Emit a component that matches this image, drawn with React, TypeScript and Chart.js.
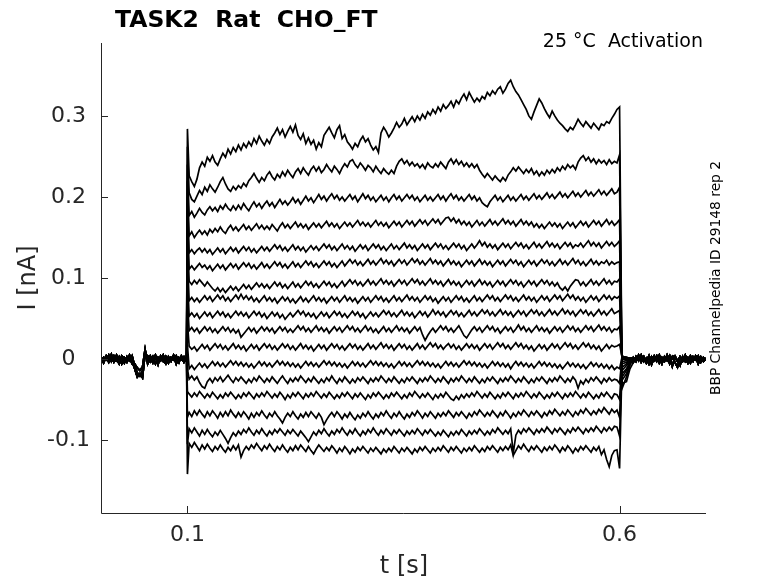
import { useEffect, useRef } from 'react';
import { Chart, registerables } from 'chart.js';
import type { ChartConfiguration, Plugin } from 'chart.js';

Chart.register(...registerables);

const FONT = "'DejaVu Sans', 'Liberation Sans', sans-serif";
const INK = '#262626';

const TITLE = 'TASK2  Rat  CHO_FT';
const CONDITION = '25 °C  Activation';
const SOURCE = 'BBP Channelpedia ID 29148 rep 2';
const X_LABEL = 't [s]';
const Y_LABEL = 'I [nA]';
const X_TICKS = [0.1, 0.6];
const Y_TICKS = [-0.1, 0, 0.1, 0.2, 0.3];

// sample times (ms)
const PRE_MS = [0, 3, 6, 9, 12, 15, 18, 21, 24, 27, 30, 33, 36, 39, 42, 45, 48, 51, 54, 57, 60, 63, 66, 69, 72, 75, 78, 81, 84, 87, 90, 93, 96, 99];
const ON_MS = 100;
const PULSE_MS = [
  102, 105, 108, 111, 114, 117, 120, 123, 126, 129,
  132, 135, 138, 141, 144, 147, 150, 153, 156, 159,
  162, 165, 168, 171, 174, 177, 180, 183, 186, 189,
  192, 195, 198, 201, 204, 207, 210, 213, 216, 219,
  222, 225, 228, 231, 234, 237, 240, 243, 246, 249,
  252, 255, 258, 261, 264, 267, 270, 273, 276, 279,
  282, 285, 288, 291, 294, 297, 300, 303, 306, 309,
  312, 315, 318, 321, 324, 327, 330, 333, 336, 339,
  342, 345, 348, 351, 354, 357, 360, 363, 366, 369,
  372, 375, 378, 381, 384, 387, 390, 393, 396, 399,
  402, 405, 408, 411, 414, 417, 420, 423, 426, 429,
  432, 435, 438, 441, 444, 447, 450, 453, 456, 459,
  462, 465, 468, 471, 474, 477, 480, 483, 486, 489,
  492, 495, 498, 501, 504, 507, 510, 513, 516, 519,
  522, 525, 528, 531, 534, 537, 540, 543, 546, 549,
  552, 555, 558, 561, 564, 567, 570, 573, 576, 579,
  582, 585, 588, 591, 594, 597,
];
const OFF_MS = [600, 603, 608, 612];
const POST_MS = [616, 619, 622, 625, 628, 631, 634, 637, 640, 643, 646, 649, 652, 655, 658, 661, 664, 667, 670, 673, 676, 679, 682, 685, 688, 691, 694, 697, 700];

// holding current before / after the step (pA)
const BASE_PRE_A = [3, -2, 4, -4, 1, -3, 5, -1, 2, -5, 3, -2, 4, -9, -17, -21, -15, 10, -3, 4, -2, 5, -4, 1, -3, 3, -5, 2, -1, 4, -3, 2, -4, 1];
const BASE_PRE_B = [-4, 2, -1, 5, -3, 4, -2, 3, -6, 2, -1, 5, -3, -12, -22, -18, -23, 6, 4, -3, 3, -6, 2, -2, 5, -4, 1, -3, 4, -6, 2, -1, 3, -2];
const BASE_PRE_C = [1, -5, 3, -2, 6, -4, 0, -6, 4, 1, -4, 2, -6, -6, -11, -14, -10, 12, -6, 1, -5, 3, -7, 4, -1, -6, 3, -2, 5, -2, -5, 4, -2, 0];
const BASE_POST_A = [2, -3, 4, -2, 3, -5, 2, -1, 4, -3, 2, -6, 3, -2, 4, -9, 2, -3, 3, -2, 5, -4, 1, -3, 4, -2, 3, -1, 1];
const BASE_POST_B = [-4, 3, -2, 5, -3, 1, -6, 3, -2, 4, -5, 2, -3, 5, -2, 3, -4, -10, 2, -3, 1, -5, 4, -2, 3, -6, 2, -3, 0];
const BASE_POST_C = [1, -2, 5, -4, 2, -3, 4, -7, 1, -2, 5, -3, -1, 3, -6, 2, 4, -2, -8, 3, -3, 2, -5, 3, -1, 4, -4, 2, -1];

// capacitive spikes and tail at step on/off (pA), top sweep first
const ON_SPIKE = [284, 262, 240, 220, 200, 178, 150, 125, 100, 72, 45, 18, -12, -40, -72, -105, -142];
const OFF_SPIKE = [311, 252, 212, 172, 146, 120, 99, 78, 60, 40, 18, -12, -30, -50, -72, -95, -135];
const OFF_TAIL_1 = [-36, -30, -26, -22, -18, -14, -10, -6, -3, 0, 2, 3, 4, 3, 2, 3, 2];
const OFF_TAIL_2 = [-22, -28, -18, -14, -12, -8, -6, -4, -2, 0, 1, 2, 1, 2, 0, 1, 2];
const OFF_TAIL_3 = [-8, -12, -6, -5, -4, -3, -2, -1, 0, 1, 0, 1, 0, -1, 1, 0, 1];

// current during the step (pA), one array per sweep, top sweep first
const TRACE_1 = [
  226, 219, 213, 222, 236, 243, 238, 249, 244, 251,
  243, 239, 247, 254, 249, 259, 253, 261, 256, 264,
  258, 266, 261, 268, 263, 272, 266, 275, 269, 264,
  271, 266, 274, 279, 285, 277, 283, 274, 281, 287,
  280, 289, 276, 271, 278, 266, 273, 265, 270, 259,
  267, 262, 276, 281, 286, 279, 273, 283, 288, 272,
  277, 268, 264, 259, 266, 262, 270, 275, 268, 272,
  264, 258, 262, 255, 279, 286, 281, 274, 279, 285,
  292, 286, 290, 297, 289, 294, 299, 293, 300, 295,
  302, 297, 305, 301, 308, 303, 311, 306, 314, 309,
  313, 318, 311, 319, 315, 322, 327, 320, 329, 323,
  317, 322, 318, 324, 321, 329, 325, 331, 327, 333,
  336, 328, 333, 340, 344, 336, 330, 326, 320, 314,
  308, 300, 296, 305, 313, 321, 316, 309, 303, 298,
  306, 300, 295, 291, 288, 284, 281, 286, 283, 289,
  296, 291, 287, 293, 289, 285, 291, 287, 283, 290,
  288, 293, 291, 297, 302, 308,
];
const TRACE_2 = [
  205, 197, 194, 201, 208, 203, 212, 207, 215, 210,
  206, 212, 219, 224, 216, 210, 207, 213, 209, 214,
  211, 217, 213, 220, 224, 229, 223, 218, 224, 220,
  227, 231, 225, 221, 228, 224, 231, 226, 233, 228,
  224, 231, 235, 229, 236, 231, 227, 234, 238, 232,
  237, 230, 234, 240, 235, 231, 238, 234, 229, 236,
  241, 237, 244, 246, 240, 236, 242, 238, 233, 239,
  236, 231, 238, 233, 229, 235, 231, 228, 233, 229,
  238, 244, 247, 241, 245, 239, 243, 238, 241, 236,
  240, 235, 242, 238, 236, 241, 237, 243, 239, 235,
  243, 247, 241, 246, 240, 244, 238, 242, 237, 241,
  236, 240, 233, 228, 224, 229, 225, 221, 226, 222,
  219, 224, 220, 227, 231, 236, 232, 237, 233, 229,
  234, 230, 235, 228, 232, 226, 231, 227, 233, 229,
  234, 230, 236, 232, 238, 234, 240, 236, 239, 234,
  243, 248, 251, 245, 249, 243, 247, 241, 246, 242,
  245, 240, 246, 241, 244, 242,
];
const TRACE_3 = [
  177, 182, 175, 180, 186, 181, 178, 184, 188, 183,
  187, 182, 189, 185, 191, 186, 183, 189, 184, 190,
  185, 192, 187, 183, 189, 194, 188, 192, 186, 191,
  195, 189, 193, 187, 192, 197, 191, 195, 190, 194,
  199, 193, 197, 191, 196, 201, 195, 199, 193, 198,
  203, 197, 201, 195, 200, 204, 198, 202, 196, 200,
  195, 199, 203, 197, 201, 194, 199, 204, 198, 202,
  196, 200, 194, 198, 202, 196, 200, 194, 199, 203,
  197, 201, 195, 199, 203, 198, 202, 196, 200, 194,
  198, 202, 196, 200, 195, 199, 203, 197, 201, 195,
  200, 204, 198, 202, 196, 200, 195, 199, 203, 197,
  201, 195, 199, 193, 190, 188, 194, 198, 202, 196,
  200, 194, 198, 202, 196, 200, 195, 199, 203, 197,
  201, 196, 200, 204, 198, 202, 197, 201, 205, 199,
  203, 198, 202, 206, 200, 204, 199, 203, 207, 201,
  205, 200, 204, 208, 202, 206, 201, 205, 209, 203,
  207, 202, 206, 210, 204, 206,
];
const TRACE_4 = [
  152, 157, 150, 155, 159, 154, 158, 153, 160, 156,
  161, 157, 163, 158, 155, 161, 165, 159, 163, 158,
  162, 166, 160, 164, 159, 163, 167, 161, 165, 160,
  164, 160, 166, 162, 158, 164, 168, 162, 166, 161,
  165, 169, 163, 167, 162, 166, 160, 164, 168, 163,
  167, 162, 166, 170, 164, 168, 163, 167, 161, 165,
  169, 164, 168, 163, 167, 171, 165, 169, 164, 168,
  163, 167, 171, 165, 169, 164, 168, 162, 166, 170,
  165, 169, 163, 167, 171, 166, 170, 164, 168, 172,
  167, 171, 165, 169, 173, 168, 172, 166, 170, 174,
  175, 170, 174, 168, 172, 166, 170, 165, 169, 163,
  167, 171, 165, 169, 164, 168, 172, 166, 170, 165,
  169, 173, 167, 171, 166, 170, 164, 168, 172, 166,
  170, 165, 169, 163, 167, 162, 166, 161, 165, 169,
  164, 168, 163, 167, 161, 165, 169, 164, 168, 162,
  166, 170, 165, 169, 163, 167, 171, 166, 170, 164,
  168, 172, 166, 170, 165, 168,
];
const TRACE_5 = [
  131, 135, 130, 134, 137, 132, 136, 131, 135, 129,
  133, 137, 132, 136, 130, 134, 138, 133, 137, 131,
  135, 139, 134, 138, 132, 136, 131, 135, 139, 134,
  138, 133, 137, 141, 136, 140, 134, 138, 133, 137,
  141, 135, 139, 134, 138, 132, 136, 140, 135, 139,
  134, 138, 142, 137, 141, 135, 139, 134, 138, 142,
  136, 140, 135, 139, 133, 137, 141, 136, 140, 134,
  138, 142, 137, 141, 135, 139, 134, 138, 142, 136,
  140, 135, 139, 143, 137, 141, 136, 140, 134, 138,
  142, 137, 141, 135, 139, 143, 138, 142, 136, 140,
  135, 139, 143, 138, 142, 136, 140, 134, 138, 142,
  137, 141, 146, 140, 144, 138, 142, 137, 141, 135,
  139, 143, 138, 142, 136, 140, 144, 139, 143, 137,
  141, 136, 140, 144, 138, 142, 137, 141, 145, 139,
  143, 138, 142, 136, 140, 144, 139, 143, 137, 141,
  139, 143, 138, 142, 146, 140, 144, 139, 143, 137,
  141, 145, 140, 144, 139, 142,
];
const TRACE_6 = [
  111, 115, 110, 114, 118, 113, 116, 111, 115, 109,
  113, 117, 112, 116, 110, 114, 118, 113, 117, 111,
  115, 119, 114, 118, 112, 116, 111, 115, 119, 113,
  117, 112, 116, 120, 115, 119, 113, 117, 112, 116,
  120, 114, 118, 113, 117, 121, 116, 120, 114, 118,
  113, 117, 121, 116, 120, 114, 118, 113, 117, 121,
  115, 119, 123, 118, 122, 116, 120, 115, 119, 123,
  117, 121, 116, 120, 124, 118, 122, 117, 121, 115,
  119, 123, 118, 122, 116, 120, 124, 119, 123, 117,
  121, 116, 120, 124, 118, 122, 117, 121, 115, 119,
  123, 117, 121, 116, 120, 114, 118, 122, 117, 121,
  115, 119, 123, 117, 121, 116, 120, 114, 118, 122,
  117, 121, 115, 119, 123, 118, 122, 116, 120, 114,
  118, 122, 117, 121, 115, 119, 123, 118, 122, 116,
  120, 115, 119, 123, 117, 121, 116, 120, 124, 118,
  122, 116, 120, 115, 119, 123, 117, 121, 116, 120,
  118, 122, 116, 120, 117, 119,
];
const TRACE_7 = [
  96, 92, 97, 93, 98, 94, 90, 95, 91, 87,
  84, 88, 83, 87, 82, 86, 90, 85, 89, 84,
  88, 92, 87, 91, 86, 90, 94, 89, 93, 88,
  92, 87, 91, 95, 90, 94, 88, 92, 87, 91,
  95, 89, 93, 88, 92, 96, 91, 95, 89, 93,
  88, 92, 96, 91, 95, 89, 93, 88, 92, 96,
  90, 94, 98, 93, 97, 91, 95, 90, 94, 98,
  92, 96, 91, 95, 99, 93, 97, 92, 96, 90,
  94, 98, 93, 97, 91, 95, 99, 94, 98, 92,
  96, 91, 95, 99, 93, 97, 92, 96, 90, 94,
  98, 92, 96, 91, 95, 89, 93, 97, 92, 96,
  90, 94, 98, 92, 96, 91, 95, 89, 93, 97,
  92, 96, 90, 94, 98, 93, 97, 91, 95, 89,
  93, 97, 92, 96, 90, 94, 98, 93, 97, 91,
  95, 90, 94, 88, 85, 89, 84, 90, 94, 98,
  97, 91, 95, 90, 94, 98, 92, 96, 91, 95,
  99, 93, 97, 92, 96, 95,
];
const TRACE_8 = [
  72, 76, 71, 75, 70, 74, 78, 73, 77, 71,
  75, 79, 74, 78, 72, 76, 71, 75, 79, 74,
  80, 74, 78, 73, 77, 71, 75, 70, 74, 78,
  72, 76, 71, 75, 69, 73, 77, 72, 76, 70,
  74, 69, 73, 77, 71, 75, 70, 74, 78, 72,
  76, 71, 75, 69, 73, 77, 72, 76, 70, 74,
  78, 72, 76, 71, 75, 69, 73, 77, 72, 76,
  70, 74, 78, 73, 77, 71, 75, 70, 74, 78,
  72, 76, 71, 75, 79, 73, 77, 72, 76, 70,
  74, 78, 73, 77, 71, 75, 69, 73, 77, 72,
  76, 70, 74, 78, 73, 77, 71, 75, 70, 74,
  78, 72, 76, 71, 75, 79, 74, 78, 72, 76,
  71, 75, 79, 74, 78, 72, 76, 71, 75, 79,
  73, 77, 72, 76, 70, 74, 78, 73, 77, 71,
  75, 79, 74, 78, 72, 76, 80, 75, 79, 73,
  77, 72, 76, 70, 74, 78, 73, 77, 71, 75,
  79, 74, 78, 73, 77, 75,
];
const TRACE_9 = [
  53, 57, 52, 56, 50, 54, 58, 53, 57, 51,
  55, 59, 54, 58, 52, 56, 51, 55, 59, 54,
  58, 53, 57, 51, 55, 59, 54, 58, 52, 56,
  50, 54, 58, 53, 57, 51, 55, 49, 53, 57,
  52, 56, 60, 55, 59, 53, 57, 52, 56, 50,
  54, 58, 53, 57, 51, 55, 59, 54, 58, 52,
  56, 51, 55, 59, 54, 58, 52, 56, 50, 54,
  58, 53, 57, 52, 56, 60, 55, 59, 53, 57,
  52, 56, 60, 54, 58, 53, 57, 51, 55, 59,
  54, 58, 52, 56, 61, 55, 59, 54, 58, 52,
  56, 60, 55, 59, 53, 57, 52, 56, 60, 54,
  58, 53, 57, 61, 56, 60, 54, 58, 53, 57,
  61, 55, 59, 54, 58, 52, 56, 60, 55, 59,
  53, 57, 61, 56, 60, 54, 58, 53, 57, 61,
  55, 59, 54, 58, 62, 56, 60, 55, 59, 53,
  57, 61, 56, 60, 54, 58, 53, 57, 61, 55,
  59, 54, 58, 62, 56, 58,
];
const TRACE_10 = [
  35, 39, 34, 38, 32, 36, 40, 35, 39, 33,
  37, 32, 36, 40, 35, 39, 33, 37, 32, 36,
  27, 31, 35, 39, 34, 38, 32, 36, 40, 35,
  39, 34, 38, 32, 36, 40, 35, 39, 33, 37,
  33, 37, 41, 36, 40, 34, 38, 33, 37, 41,
  35, 39, 34, 38, 32, 36, 40, 35, 39, 33,
  37, 41, 36, 40, 34, 38, 33, 37, 41, 35,
  39, 33, 37, 32, 36, 40, 34, 38, 33, 37,
  41, 35, 39, 34, 38, 32, 36, 40, 35, 39,
  30, 23, 29, 34, 38, 33, 37, 41, 36, 40,
  34, 38, 33, 37, 41, 35, 29, 26, 31, 36,
  40, 35, 39, 33, 37, 41, 36, 40, 34, 38,
  32, 36, 40, 35, 39, 33, 37, 42, 36, 40,
  34, 38, 33, 37, 41, 35, 39, 34, 38, 32,
  36, 40, 35, 39, 33, 37, 41, 36, 40, 34,
  38, 33, 37, 41, 36, 40, 34, 38, 42, 36,
  40, 35, 39, 33, 37, 36,
];
const TRACE_11 = [
  16, 12, 15, 10, 14, 18, 13, 17, 11, 15,
  19, 14, 18, 12, 16, 11, 15, 19, 13, 17,
  12, 16, 10, 14, 18, 13, 17, 11, 15, 19,
  14, 18, 12, 16, 11, 15, 19, 14, 18, 12,
  16, 11, 15, 19, 13, 17, 12, 16, 10, 14,
  18, 13, 17, 11, 15, 19, 14, 18, 12, 16,
  11, 15, 19, 14, 18, 12, 16, 11, 15, 19,
  13, 17, 12, 16, 20, 14, 18, 13, 17, 11,
  15, 19, 14, 18, 12, 16, 11, 15, 19, 13,
  17, 12, 16, 20, 15, 19, 13, 17, 12, 16,
  19, 14, 18, 12, 16, 11, 15, 19, 14, 18,
  13, 17, 11, 15, 19, 14, 18, 12, 16, 20,
  15, 19, 13, 17, 12, 16, 20, 15, 19, 13,
  17, 12, 16, 10, 14, 18, 13, 17, 11, 15,
  19, 14, 18, 12, 16, 20, 15, 19, 13, 17,
  12, 16, 20, 15, 19, 13, 17, 12, 16, 10,
  14, 18, 13, 17, 15, 16,
];
const TRACE_12 = [
  -12, -8, -13, -9, -5, -10, -6, -11, -7, -3,
  -8, -4, -9, -5, -10, -6, -2, -7, -3, -8,
  -4, -9, -5, -10, -6, -11, -7, -3, -8, -4,
  -9, -5, -10, -6, -2, -7, -3, -8, -4, -9,
  -5, -10, -6, -11, -7, -3, -8, -4, -9, -5,
  -10, -6, -2, -7, -3, -8, -4, -9, -5, -10,
  -6, -11, -7, -3, -8, -4, -9, -5, -10, -6,
  -2, -7, -3, -8, -4, -9, -5, -10, -6, -11,
  -7, -3, -8, -4, -9, -5, -10, -6, -2, -7,
  -3, -8, -4, -9, -5, -10, -6, -11, -7, -3,
  -8, -4, -9, -5, -10, -6, -2, -7, -3, -8,
  -4, -9, -5, -10, -6, -11, -7, -3, -8, -4,
  -9, -5, -10, -6, -12, -7, -3, -8, -4, -9,
  -5, -10, -6, -11, -7, -3, -8, -4, -9, -5,
  -10, -6, -11, -7, -12, -8, -4, -9, -5, -10,
  -6, -11, -7, -12, -8, -4, -9, -5, -10, -6,
  -11, -7, -12, -8, -13, -10,
];
const TRACE_13 = [
  -25, -21, -26, -22, -29, -34, -36, -28, -24, -29,
  -23, -27, -22, -28, -24, -20, -25, -29, -23, -27,
  -22, -26, -30, -25, -29, -23, -27, -21, -25, -29,
  -24, -28, -22, -26, -30, -25, -21, -26, -30, -24,
  -28, -23, -27, -21, -25, -29, -24, -28, -22, -26,
  -30, -25, -29, -23, -27, -21, -26, -30, -24, -28,
  -22, -26, -30, -25, -29, -23, -27, -22, -26, -30,
  -24, -28, -23, -27, -21, -25, -29, -24, -28, -22,
  -26, -30, -25, -29, -23, -27, -22, -26, -30, -24,
  -28, -23, -27, -21, -25, -29, -24, -28, -22, -26,
  -30, -24, -28, -23, -27, -21, -25, -29, -24, -28,
  -22, -26, -30, -25, -29, -23, -27, -22, -26, -30,
  -24, -28, -23, -27, -21, -25, -29, -24, -28, -22,
  -26, -30, -25, -29, -23, -27, -22, -26, -30, -24,
  -28, -23, -27, -21, -25, -29, -24, -28, -22, -26,
  -36, -27, -31, -25, -29, -23, -27, -22, -26, -30,
  -24, -28, -23, -27, -25, -26,
];
const TRACE_14 = [
  -43, -47, -42, -46, -40, -44, -48, -43, -47, -41,
  -45, -49, -44, -48, -42, -46, -41, -45, -49, -44,
  -48, -42, -46, -41, -45, -49, -43, -47, -42, -46,
  -40, -44, -48, -43, -47, -41, -45, -50, -44, -48,
  -42, -46, -41, -45, -49, -43, -47, -42, -46, -40,
  -44, -48, -43, -47, -41, -45, -49, -44, -48, -42,
  -46, -41, -45, -49, -43, -47, -42, -46, -50, -44,
  -48, -42, -46, -41, -45, -49, -44, -48, -42, -46,
  -41, -45, -49, -44, -48, -42, -46, -40, -44, -48,
  -43, -47, -42, -46, -50, -44, -48, -43, -47, -41,
  -45, -49, -51, -46, -50, -44, -48, -43, -47, -42,
  -46, -40, -44, -48, -43, -47, -41, -45, -49, -44,
  -48, -42, -46, -41, -45, -49, -43, -47, -42, -46,
  -40, -44, -48, -43, -47, -41, -45, -49, -44, -48,
  -42, -46, -41, -45, -49, -43, -47, -42, -46, -40,
  -44, -48, -43, -47, -41, -45, -49, -44, -48, -42,
  -46, -41, -45, -49, -43, -44,
];
const TRACE_15 = [
  -66, -71, -64, -69, -63, -68, -72, -65, -70, -64,
  -68, -73, -66, -71, -65, -70, -63, -68, -72, -66,
  -71, -65, -69, -74, -67, -72, -66, -70, -64, -69,
  -73, -67, -71, -65, -70, -74, -79, -72, -67, -71,
  -65, -70, -74, -68, -72, -66, -71, -65, -69, -73,
  -67, -72, -81, -75, -70, -66, -71, -65, -69, -74,
  -68, -72, -66, -71, -75, -69, -73, -67, -71, -65,
  -70, -74, -68, -72, -66, -70, -64, -69, -73, -67,
  -71, -65, -70, -74, -68, -72, -66, -70, -64, -68,
  -73, -67, -71, -65, -69, -73, -67, -71, -66, -70,
  -64, -68, -72, -66, -70, -65, -69, -73, -67, -71,
  -65, -69, -63, -67, -71, -66, -70, -64, -68, -72,
  -66, -70, -64, -68, -73, -67, -71, -65, -69, -63,
  -67, -71, -65, -69, -64, -68, -72, -66, -70, -64,
  -68, -62, -66, -70, -65, -69, -63, -67, -71, -65,
  -69, -63, -67, -61, -65, -69, -64, -68, -62, -66,
  -60, -64, -68, -62, -66, -63,
];
const TRACE_16 = [
  -86, -91, -85, -90, -95, -88, -93, -87, -92, -96,
  -90, -94, -88, -93, -98, -104, -97, -91, -95, -89,
  -93, -87, -91, -85, -90, -94, -88, -92, -86, -91,
  -95, -89, -93, -87, -91, -86, -90, -94, -88, -92,
  -87, -91, -95, -89, -93, -97, -102, -96, -90, -94,
  -88, -92, -86, -91, -95, -89, -93, -87, -91, -85,
  -90, -94, -88, -92, -86, -91, -95, -89, -93, -87,
  -91, -85, -90, -94, -88, -92, -86, -90, -94, -88,
  -92, -87, -91, -95, -89, -93, -88, -92, -86, -90,
  -94, -88, -92, -87, -91, -95, -90, -94, -88, -92,
  -96, -90, -94, -89, -93, -87, -91, -95, -89, -93,
  -88, -92, -86, -90, -94, -89, -93, -87, -91, -85,
  -89, -93, -88, -92, -86, -116, -94, -88, -92, -86,
  -90, -85, -89, -93, -87, -91, -86, -90, -84, -88,
  -92, -86, -90, -85, -89, -93, -87, -91, -85, -89,
  -84, -88, -92, -86, -90, -85, -89, -83, -87, -91,
  -85, -89, -84, -88, -83, -84,
];
const TRACE_17 = [
  -104, -109, -103, -108, -113, -106, -111, -105, -110, -114,
  -108, -112, -106, -111, -115, -109, -113, -107, -112, -106,
  -121, -113, -108, -112, -106, -110, -104, -109, -113, -107,
  -111, -105, -110, -114, -108, -112, -106, -111, -115, -109,
  -113, -107, -112, -106, -110, -114, -108, -113, -117, -111,
  -106, -110, -114, -109, -113, -107, -111, -116, -110, -114,
  -108, -112, -117, -111, -115, -109, -113, -108, -112, -116,
  -110, -114, -109, -113, -117, -111, -115, -110, -114, -108,
  -112, -116, -110, -114, -109, -113, -117, -111, -115, -109,
  -113, -108, -112, -116, -110, -114, -109, -113, -107, -111,
  -115, -109, -113, -108, -112, -116, -110, -114, -109, -113,
  -107, -111, -115, -110, -114, -108, -112, -107, -111, -115,
  -109, -113, -108, -112, -106, -119, -113, -107, -111, -105,
  -110, -114, -108, -112, -107, -111, -115, -109, -113, -108,
  -112, -106, -110, -115, -109, -113, -107, -111, -116, -110,
  -114, -108, -112, -107, -111, -115, -109, -113, -108, -118,
  -112, -124, -133, -119, -113, -112,
];

const TRACES = [
  TRACE_1, TRACE_2, TRACE_3, TRACE_4, TRACE_5, TRACE_6, TRACE_7, TRACE_8, TRACE_9,
  TRACE_10, TRACE_11, TRACE_12, TRACE_13, TRACE_14, TRACE_15, TRACE_16, TRACE_17,
];
const PRE_BASES = [BASE_PRE_A, BASE_PRE_B, BASE_PRE_C];
const POST_BASES = [BASE_POST_A, BASE_POST_B, BASE_POST_C];

type Pt = { x: number; y: number };

// stitch one sweep together: holding -> step -> holding, ms/pA -> s/nA
function buildSweep(k: number): Pt[] {
  const pts: Pt[] = [];
  const pre = PRE_BASES[k % 3];
  PRE_MS.forEach((t, i) => pts.push({ x: t / 1000, y: pre[i] / 1000 }));
  pts.push({ x: ON_MS / 1000, y: ON_SPIKE[k] / 1000 });
  const trace = TRACES[k];
  PULSE_MS.forEach((t, i) => {
    if (trace[i] !== undefined) pts.push({ x: t / 1000, y: trace[i] / 1000 });
  });
  const off = [OFF_SPIKE[k], OFF_TAIL_1[k], OFF_TAIL_2[k], OFF_TAIL_3[k]];
  OFF_MS.forEach((t, i) => pts.push({ x: t / 1000, y: off[i] / 1000 }));
  const post = POST_BASES[k % 3];
  POST_MS.forEach((t, i) => pts.push({ x: t / 1000, y: post[i] / 1000 }));
  return pts;
}

const fmtTick = (v: number | string) => {
  const n = Math.round(Number(v) * 10) / 10;
  return n === 0 ? '0' : String(n);
};

// MATLAB-like axes: left + bottom lines with inward ticks, plus the texts
const decorations: Plugin<'line'> = {
  id: 'decorations',
  afterDraw(chart) {
    const { ctx, chartArea: a, scales } = chart;
    ctx.save();
    ctx.strokeStyle = INK;
    ctx.lineWidth = 1;
    ctx.beginPath();
    ctx.moveTo(a.left + 0.5, a.top);
    ctx.lineTo(a.left + 0.5, a.bottom + 0.5);
    ctx.lineTo(a.right, a.bottom + 0.5);
    Y_TICKS.forEach((v) => {
      const y = Math.round(scales.y.getPixelForValue(v)) + 0.5;
      ctx.moveTo(a.left, y);
      ctx.lineTo(a.left + 7, y);
    });
    X_TICKS.forEach((v) => {
      const x = Math.round(scales.x.getPixelForValue(v)) + 0.5;
      ctx.moveTo(x, a.bottom);
      ctx.lineTo(x, a.bottom - 7);
    });
    ctx.stroke();

    ctx.fillStyle = '#000';
    ctx.textBaseline = 'alphabetic';
    ctx.font = `bold 23.5px ${FONT}`;
    ctx.textAlign = 'left';
    ctx.fillText(TITLE, 115, 27);

    ctx.font = `19px ${FONT}`;
    ctx.textAlign = 'right';
    ctx.fillText(CONDITION, 703, 47);

    ctx.fillStyle = INK;
    ctx.font = `24px ${FONT}`;
    ctx.textAlign = 'center';
    ctx.textBaseline = 'middle';
    ctx.fillText(X_LABEL, 404, 567);

    ctx.save();
    ctx.translate(29, 278);
    ctx.rotate(-Math.PI / 2);
    ctx.fillText(Y_LABEL, 0, 0);
    ctx.restore();

    ctx.save();
    ctx.fillStyle = '#000';
    ctx.font = `13.8px ${FONT}`;
    ctx.translate(716, 278);
    ctx.rotate(-Math.PI / 2);
    ctx.fillText(SOURCE, 0, 0);
    ctx.restore();

    ctx.restore();
  },
};

export default function App() {
  const canvasRef = useRef<HTMLCanvasElement>(null);

  useEffect(() => {
    if (!canvasRef.current) return;
    const ctx = canvasRef.current.getContext('2d');
    if (!ctx) return;

    const config: ChartConfiguration<'line', Pt[]> = {
      type: 'line',
      data: {
        datasets: TRACES.map((_, k) => ({
          label: `sweep ${k + 1}`,
          data: buildSweep(k),
          borderColor: '#000',
          borderWidth: 1.7,
          pointRadius: 0,
          tension: 0,
          fill: false,
        })),
      },
      options: {
        animation: false,
        responsive: false,
        maintainAspectRatio: false,
        events: [],
        layout: { padding: { left: 0, right: 72, top: 43, bottom: 0 } },
        plugins: {
          legend: { display: false },
          tooltip: { enabled: false },
          title: { display: false },
        },
        scales: {
          x: {
            type: 'linear',
            min: 0,
            max: 0.7,
            grid: { display: false, drawTicks: false, tickLength: 0 },
            border: { display: false },
            afterBuildTicks: (scale) => {
              scale.ticks = X_TICKS.map((value) => ({ value }));
            },
            afterFit: (scale) => {
              scale.height = 70;
            },
            ticks: {
              padding: 9,
              color: INK,
              font: { family: FONT, size: 22 },
              maxRotation: 0,
              autoSkip: false,
              callback: fmtTick,
            },
          },
          y: {
            type: 'linear',
            min: -0.19,
            max: 0.39,
            grid: { display: false, drawTicks: false, tickLength: 0 },
            border: { display: false },
            afterBuildTicks: (scale) => {
              scale.ticks = Y_TICKS.map((value) => ({ value }));
            },
            afterFit: (scale) => {
              scale.width = 101;
            },
            ticks: {
              padding: 11,
              crossAlign: 'center',
              color: INK,
              font: { family: FONT, size: 22 },
              autoSkip: false,
              callback: fmtTick,
            },
          },
        },
      },
      plugins: [decorations],
    };

    const chart = new Chart(ctx, config);
    return () => chart.destroy();
  }, []);

  return (
    <div style={{ position: 'absolute', left: 0, top: 0, width: 778, height: 583, background: '#fff' }}>
      <canvas ref={canvasRef} width={778} height={583} style={{ display: 'block' }} />
    </div>
  );
}
